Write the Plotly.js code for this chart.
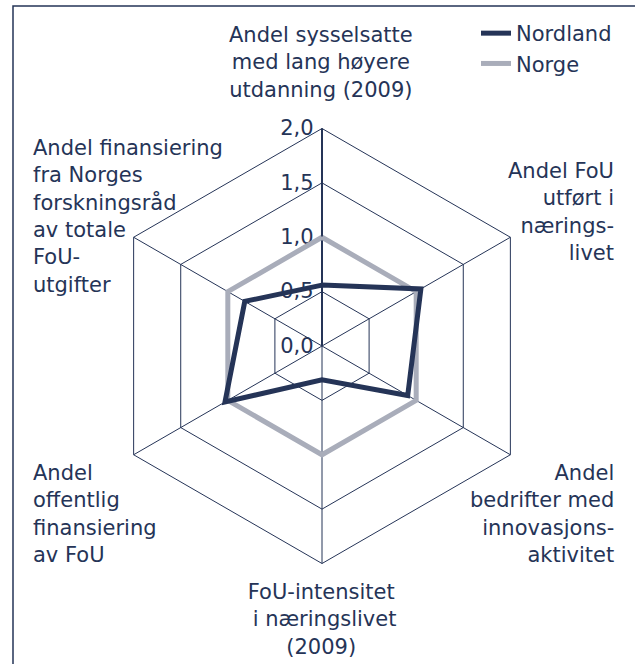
<!DOCTYPE html>
<html>
<head>
<meta charset="utf-8">
<script src="https://cdn.plot.ly/plotly-3.0.1.min.js"></script>
<style>
  html, body { margin: 0; padding: 0; background: #ffffff; }
  #chart { width: 635px; height: 664px; }
</style>
</head>
<body>
<div id="chart"></div>
<script>
// indicator categories, clockwise from the top
var categories = [
  "Andel sysselsatte med lang høyere utdanning (2009)",
  "Andel FoU utført i næringslivet",
  "Andel bedrifter med innovasjonsaktivitet",
  "FoU-intensitet i næringslivet (2009)",
  "Andel offentlig finansiering av FoU",
  "Andel finansiering fra Norges forskningsråd av totale FoU-utgifter"
];
// wrapped labels as they appear round the web
var labelText = [
  "Andel sysselsatte<br>med lang høyere<br>utdanning (2009)",
  "Andel FoU<br>utført i<br>nærings-<br>livet",
  "Andel<br>bedrifter med<br>innovasjons-<br>aktivitet",
  "FoU-intensitet<br>\u00a0i næringslivet<br>(2009)",
  "Andel<br>offentlig<br>finansiering<br>av FoU",
  "Andel finansiering<br>fra Norges<br>forskningsråd<br>av totale<br>FoU-<br>utgifter"
];
var nordland = [0.56, 1.05, 0.91, 0.31, 1.03, 0.82];
var norge = [1.0, 1.0, 1.0, 1.0, 1.0, 1.0];
var radialTicks = [0, 0.5, 1.0, 1.5, 2.0];

var NAVY = "#253457";
var GREY = "#a9adba";
var FONT = "DejaVu Sans, Verdana, sans-serif";
var W = 635, H = 664;

function closeLoop(arr) { return arr.concat([arr[0]]); }

var traces = [
  {
    type: "scatterpolar",
    name: "Norge",
    r: closeLoop(norge),
    theta: closeLoop(categories),
    mode: "lines",
    line: { color: GREY, width: 5 },
    hoverinfo: "skip"
  },
  {
    type: "scatterpolar",
    name: "Nordland",
    r: closeLoop(nordland),
    theta: closeLoop(categories),
    mode: "lines",
    line: { color: NAVY, width: 5 },
    hoverinfo: "skip"
  }
];

// label anchors in page pixels (x, y centre of block) + alignment
var labelPos = [
  { x: 321, y: 62, xa: "center" },
  { x: 616, y: 212, xa: "right" },
  { x: 616, y: 514, xa: "right" },
  { x: 321, y: 619, xa: "center" },
  { x: 31, y: 514, xa: "left" },
  { x: 31, y: 216, xa: "left" }
];

var annotations = labelText.map(function (t, i) {
  var p = labelPos[i];
  return {
    text: t,
    xref: "paper", yref: "paper",
    x: p.x / W, y: 1 - p.y / H,
    xanchor: p.xa, yanchor: "middle",
    align: p.xa,
    showarrow: false,
    font: { family: FONT, size: 21, color: NAVY }
  };
});

// web centre (322,346), radius 217.5 px
var cx = 322, cy = 346, R = 217.5;

var layout = {
  width: W,
  height: H,
  margin: { l: 0, r: 0, t: 0, b: 0 },
  paper_bgcolor: "#ffffff",
  separators: ", ",
  font: { family: FONT, size: 21, color: NAVY },
  showlegend: true,
  legend: {
    x: 476 / W, y: 1 - 13 / H,
    xanchor: "left", yanchor: "top",
    traceorder: "reversed",
    bgcolor: "rgba(0,0,0,0)",
    font: { family: FONT, size: 21, color: NAVY }
  },
  polar: {
    domain: {
      x: [(cx - R) / W, (cx + R) / W],
      y: [(H - cy - R) / H, (H - cy + R) / H]
    },
    gridshape: "linear",
    bgcolor: "rgba(0,0,0,0)",
    radialaxis: {
      range: [0, 2],
      tickvals: radialTicks,
      tickformat: ".1f",
      ticksuffix: "\u00a0",
      angle: 90,
      tickangle: 90,
      side: "counterclockwise",
      ticks: "",
      showline: true,
      linecolor: NAVY,
      linewidth: 2,
      gridcolor: NAVY,
      gridwidth: 1,
      tickfont: { family: FONT, size: 21, color: NAVY },
      layer: "below traces"
    },
    angularaxis: {
      type: "category",
      categoryarray: categories,
      rotation: 90,
      direction: "clockwise",
      showticklabels: false,
      ticks: "",
      showline: true,
      linecolor: NAVY,
      linewidth: 1,
      gridcolor: NAVY,
      gridwidth: 1,
      layer: "below traces"
    }
  },
  annotations: annotations,
  shapes: [
    {
      type: "rect",
      xref: "paper", yref: "paper",
      x0: 13 / W, x1: 1.05,
      y0: -0.05, y1: 1 - 6 / H,
      line: { color: NAVY, width: 1.5 },
      fillcolor: "rgba(0,0,0,0)",
      layer: "below"
    }
  ]
};

Plotly.newPlot("chart", traces, layout, { displayModeBar: false, staticPlot: true });
</script>
</body>
</html>
